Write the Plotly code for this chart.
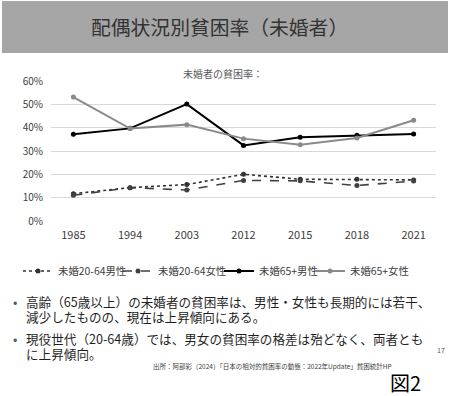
import plotly.graph_objects as go

years = ["1985", "1994", "2003", "2012", "2015", "2018", "2021"]
male_2064 = [0.117, 0.143, 0.156, 0.200, 0.179, 0.179, 0.176]
female_2064 = [0.110, 0.143, 0.133, 0.174, 0.172, 0.152, 0.171]
male_65 = [0.372, 0.397, 0.501, 0.324, 0.359, 0.367, 0.373]
female_65 = [0.531, 0.396, 0.413, 0.353, 0.327, 0.356, 0.432]
names = ["未婚20-64男性", "未婚20-64女性", "未婚65+男性", "未婚65+女性"]
yticks = [0, 0.1, 0.2, 0.3, 0.4, 0.5, 0.6]

W, H = 450, 396
L, R, T, B = 51, 14, 81, 175
pw, ph = W - L - R, H - T - B

def px(x):
    return (x - L) / pw

def py(y):
    return (H - B - y) / ph

FONT = "Noto Sans CJK JP"
fig = go.Figure()
styles = [
    dict(color="#333333", width=1.6, dash="dot"),
    dict(color="#404040", width=1.6, dash="dash"),
    dict(color="#000000", width=2.0, dash="solid"),
    dict(color="#8a8a8a", width=2.0, dash="solid"),
]
legend_ids = ["legend", "legend2", "legend3", "legend4"]
text_starts = [57, 157, 258, 349]
for name, vals, st, lg in zip(names, [male_2064, female_2064, male_65, female_65], styles, legend_ids):
    fig.add_trace(go.Scatter(
        x=years, y=vals, name=name, mode="lines+markers",
        line=st, marker=dict(size=5, color=st["color"]), legend=lg,
    ))

legend_common = dict(orientation="h", yanchor="middle", y=py(271), xanchor="left",
                     font=dict(size=10.4, color="#404040"), itemwidth=30,
                     bgcolor="rgba(0,0,0,0)", borderwidth=0)
legends = {}
for lg, ts in zip(legend_ids, text_starts):
    legends[lg] = dict(legend_common, x=px(ts - 39))

fig.update_layout(
    width=W, height=H,
    margin=dict(l=L, r=R, t=T, b=B),
    paper_bgcolor="white", plot_bgcolor="white",
    font=dict(family=FONT, color="#595959", size=10),
    showlegend=True,
    xaxis=dict(type="category", showgrid=False, showline=False, zeroline=False,
               tickfont=dict(size=11, color="#404040"), ticks="", ticklabelstandoff=6),
    yaxis=dict(range=[0, 0.6], tickvals=yticks, tickformat=".0%", showgrid=True,
               gridcolor="#d9d9d9", gridwidth=1, zeroline=False, showline=False,
               tickfont=dict(size=10, color="#404040"), ticks="", ticklabelstandoff=7),
    **legends,
)

shapes = [
    dict(type="rect", xref="paper", yref="paper", x0=px(2), x1=px(448), y0=py(53), y1=py(1),
         fillcolor="#a6a6a6", line=dict(width=0), layer="below"),
]
fig.update_layout(shapes=shapes)

def ann(text, x, y, size, color="#1f1f1f", xanchor="left", yanchor="middle", align="left"):
    fig.add_annotation(text=text, x=px(x), y=py(y), xref="paper", yref="paper",
                       showarrow=False, xanchor=xanchor, yanchor=yanchor, align=align,
                       font=dict(family=FONT, size=size, color=color))

ann("配偶状況別貧困率（未婚者）", 219, 26, 19.8, color="#333333", xanchor="center")
ann("未婚者の貧困率：", 223, 73, 10, color="#595959", xanchor="center")
ann("•", 11, 301, 13, color="#595959")
ann("高齢（65歳以上）の未婚者の貧困率は、男性・女性も長期的には若干、", 24, 301, 12.6)
ann("減少したものの、現在は上昇傾向にある。", 24, 316, 12.6)
ann("•", 11, 338.5, 13, color="#595959")
ann("現役世代（20-64歳）では、男女の貧困率の格差は殆どなく、両者とも", 24, 338.5, 12.6)
ann("に上昇傾向。", 24, 353.5, 12.6)
ann("出所：阿部彩（2024）「日本の相対的貧困率の動態：2022年Update」貧困統計HP", 272, 366, 6.5,
    color="#404040", xanchor="center")
ann("17", 441, 350, 7, color="#595959", xanchor="center")
ann("図2", 405, 382, 20, color="#000000", xanchor="center")

fig.write_html("out.html", post_script="document.body.style.margin='0';",
               config={"displayModeBar": False})
